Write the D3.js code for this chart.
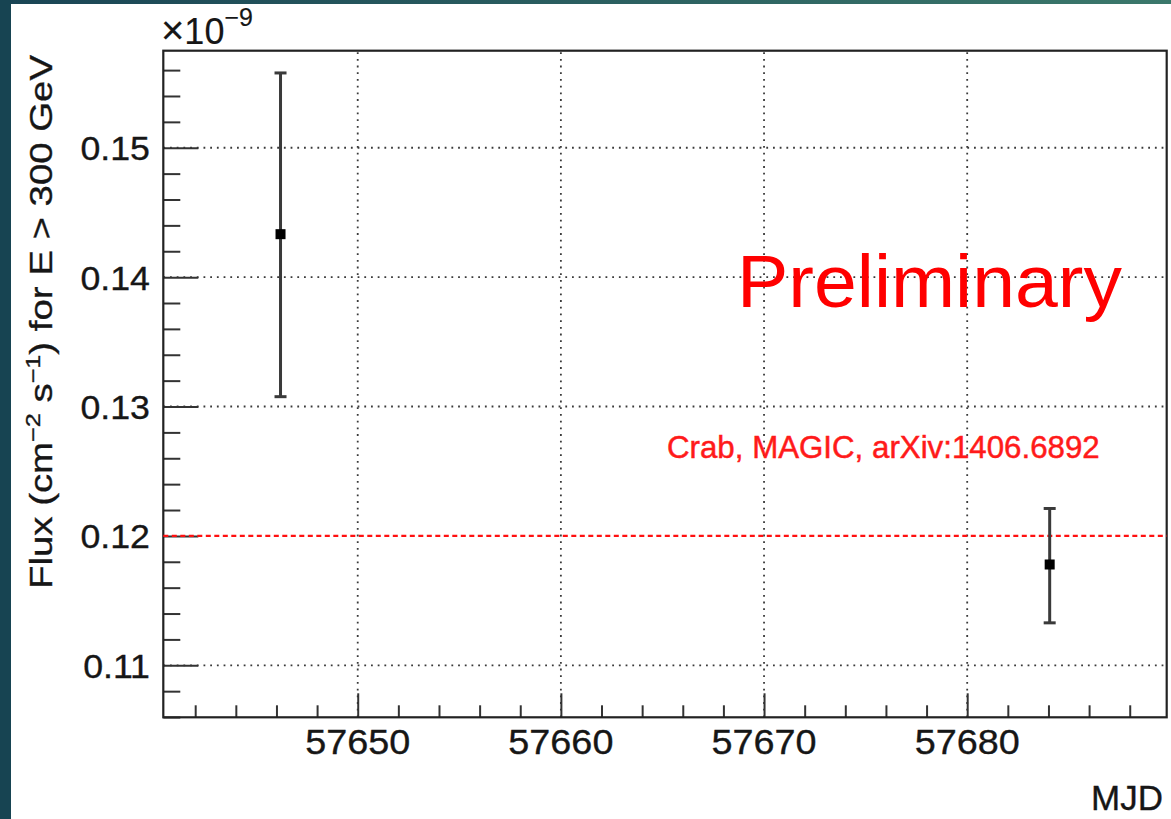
<!DOCTYPE html>
<html>
<head>
<meta charset="utf-8">
<script src="https://cdn.jsdelivr.net/npm/d3@7"></script>
<style>
  html, body { margin: 0; padding: 0; background: #ffffff; }
  svg { display: block; }
  text { font-family: "Liberation Sans", Arial, Helvetica, sans-serif; }
  .lbl { fill: #161616; stroke: #161616; stroke-width: 0.35px; }
</style>
</head>
<body>
<svg id="chart" width="1171" height="819"></svg>
<script>
// Light-curve points (MJD, flux in units of 1e-9 cm^-2 s^-1)
const mjd       = [57646.2, 57684.06];
const flux      = [0.14332, 0.11779];
const fluxHigh  = [0.15578, 0.12212];
const fluxLow   = [0.13076, 0.11328];

// Reference Crab flux (MAGIC, arXiv:1406.6892)
const crabFlux  = 0.12;
const crabLabel = "Crab, MAGIC, arXiv:1406.6892";

// Axis ticks
const xMajorTicks = [57650, 57660, 57670, 57680];
const xMinorTicks = [57642, 57644, 57646, 57648, 57652, 57654, 57656, 57658,
                     57662, 57664, 57666, 57668, 57672, 57674, 57676, 57678,
                     57682, 57684, 57686, 57688];
const yMajorTicks = [0.11, 0.12, 0.13, 0.14, 0.15];
const yMinorTicks = [0.106, 0.108, 0.112, 0.114, 0.116, 0.118, 0.122, 0.124, 0.126, 0.128,
                     0.132, 0.134, 0.136, 0.138, 0.142, 0.144, 0.146, 0.148, 0.152, 0.154, 0.156];
const xDomain = [57640.43, 57689.82];
const yDomain = [0.10598, 0.1575];

const svg = d3.select("#chart");

// Slide background strips
const defs = svg.append("defs");
const grad = defs.append("linearGradient").attr("id", "topband")
  .attr("x1", "0%").attr("x2", "100%").attr("y1", "0%").attr("y2", "0%");
grad.append("stop").attr("offset", "0%").attr("stop-color", "#1a4555");
grad.append("stop").attr("offset", "100%").attr("stop-color", "#3b786b");
svg.append("rect").attr("x", 0).attr("y", 0).attr("width", 1171).attr("height", 4).attr("fill", "url(#topband)");
svg.append("rect").attr("x", 0).attr("y", 0).attr("width", 11).attr("height", 819).attr("fill", "#174452");

// Frame geometry
const L = 163.3, R = 1166.7, T = 50.7, B = 717.3;
const x = d3.scaleLinear().domain(xDomain).range([L, R]);
const y = d3.scaleLinear().domain(yDomain).range([B, T]);

// Dotted grid
const grid = svg.append("g").attr("stroke", "#3a3a3a").attr("stroke-width", 1.8)
  .attr("stroke-dasharray", "1.8,4.9");
grid.selectAll("line.gx").data(xMajorTicks).join("line")
  .attr("x1", d => x(d)).attr("x2", d => x(d)).attr("y1", B).attr("y2", T);
grid.selectAll("line.gy").data(yMajorTicks.filter(v => v !== crabFlux)).join("line")
  .attr("x1", L).attr("x2", R).attr("y1", d => y(d)).attr("y2", d => y(d));

// Axes ticks (drawn inward, ROOT style)
const axisColor = "#333";
const gx = svg.append("g").attr("transform", `translate(0,${B})`)
  .call(d3.axisBottom(x).tickValues(xMajorTicks).tickSize(-24).tickFormat(""));
gx.select(".domain").remove();
gx.selectAll(".tick line").attr("stroke", axisColor).attr("stroke-width", 2);
const gxm = svg.append("g").attr("transform", `translate(0,${B})`)
  .call(d3.axisBottom(x).tickValues(xMinorTicks).tickSize(-12).tickFormat(""));
gxm.select(".domain").remove();
gxm.selectAll(".tick line").attr("stroke", axisColor).attr("stroke-width", 2);

const gy = svg.append("g").attr("transform", `translate(${L},0)`)
  .call(d3.axisLeft(y).tickValues(yMajorTicks).tickSize(-35).tickFormat(""));
gy.select(".domain").remove();
gy.selectAll(".tick line").attr("stroke", axisColor).attr("stroke-width", 2);
const gym = svg.append("g").attr("transform", `translate(${L},0)`)
  .call(d3.axisLeft(y).tickValues(yMinorTicks).tickSize(-17).tickFormat(""));
gym.select(".domain").remove();
gym.selectAll(".tick line").attr("stroke", axisColor).attr("stroke-width", 2);

// Tick labels
svg.append("g").selectAll("text").data(xMajorTicks).join("text")
  .attr("class", "lbl")
  .attr("x", d => x(d)).attr("y", 754).attr("text-anchor", "middle")
  .attr("font-size", 35)
  .attr("transform", d => `translate(${x(d)},0) scale(1.08,1) translate(${-x(d)},0)`)
  .text(d => d3.format("d")(d));
svg.append("g").selectAll("text").data(yMajorTicks).join("text")
  .attr("class", "lbl")
  .attr("x", 150).attr("y", d => y(d) + 12.5).attr("text-anchor", "end")
  .attr("font-size", 34)
  .attr("transform", "translate(150,0) scale(1.05,1) translate(-150,0)")
  .text(d => d3.format(".2f")(d));

// Frame
svg.append("rect").attr("x", L).attr("y", T).attr("width", R - L).attr("height", B - T)
  .attr("fill", "none").attr("stroke", "#222").attr("stroke-width", 2.2);

// Scale factor label
const exp = svg.append("text").attr("class", "lbl").attr("x", 161).attr("y", 44).attr("font-size", 36)
  .style("stroke-width", "0.15px");
exp.append("tspan").attr("font-size", 40).text("\u00d7");
exp.append("tspan").text("10");
exp.append("tspan").attr("dy", -18).attr("font-size", 25).text("\u22129");

// Axis titles
svg.append("text").attr("class", "lbl").attr("x", 1163).attr("y", 810).attr("text-anchor", "end")
  .attr("font-size", 35).text("MJD");

const ylab = svg.append("text").attr("class", "lbl").attr("font-size", 32)
  .attr("text-anchor", "middle")
  .attr("transform", "translate(52,322) rotate(-90)");
ylab.append("tspan").text("Flux (cm");
ylab.append("tspan").attr("dy", -12).attr("font-size", 21).text("\u22122");
ylab.append("tspan").attr("dy", 12).text(" s");
ylab.append("tspan").attr("dy", -12).attr("font-size", 21).text("\u22121");
ylab.append("tspan").attr("dy", 12).text(") for E > 300 GeV");
{
  const w = ylab.node().getBBox().width;
  ylab.attr("transform", `translate(52,322) rotate(-90) scale(${535 / w},1)`);
}

// Fit a text node horizontally to a target width around its anchor point
function fitWidth(node, target, ax) {
  const s = target / node.getBBox().width;
  d3.select(node).attr("transform", `translate(${ax},0) scale(${s},1) translate(${-ax},0)`);
}

// Crab reference line
svg.append("line")
  .attr("x1", L).attr("x2", R).attr("y1", y(crabFlux)).attr("y2", y(crabFlux))
  .attr("stroke", "#ff1010").attr("stroke-width", 2.4).attr("stroke-dasharray", "5,3.5");

const crab = svg.append("text").attr("x", 667).attr("y", 458).attr("font-size", 32)
  .attr("fill", "#ff1a1a").attr("stroke", "#ff1a1a").attr("stroke-width", 0.5).text(crabLabel);
fitWidth(crab.node(), 433, 667);

// Preliminary watermark
const prelim = svg.append("text").attr("x", 737).attr("y", 307)
  .attr("font-family", "'Open Sans', 'DejaVu Sans', sans-serif").attr("font-weight", 300)
  .attr("font-size", 74).attr("fill", "#ff0000").text("Preliminary");
fitWidth(prelim.node(), 385, 737);

// Error bars and markers
const pts = mjd.map((m, i) => ({ m, f: flux[i], hi: fluxHigh[i], lo: fluxLow[i] }));
const eb = svg.append("g").attr("stroke", "#3a3a3a").attr("stroke-width", 3);
eb.selectAll("line.bar").data(pts).join("line")
  .attr("x1", d => x(d.m)).attr("x2", d => x(d.m))
  .attr("y1", d => y(d.hi)).attr("y2", d => y(d.lo));
eb.selectAll("line.capt").data(pts).join("line")
  .attr("x1", d => x(d.m) - 6).attr("x2", d => x(d.m) + 6)
  .attr("y1", d => y(d.hi)).attr("y2", d => y(d.hi));
eb.selectAll("line.capb").data(pts).join("line")
  .attr("x1", d => x(d.m) - 6).attr("x2", d => x(d.m) + 6)
  .attr("y1", d => y(d.lo)).attr("y2", d => y(d.lo));
svg.append("g").selectAll("rect").data(pts).join("rect")
  .attr("x", d => x(d.m) - 5).attr("y", d => y(d.f) - 5)
  .attr("width", 10).attr("height", 10).attr("fill", "#000");
</script>
</body>
</html>
